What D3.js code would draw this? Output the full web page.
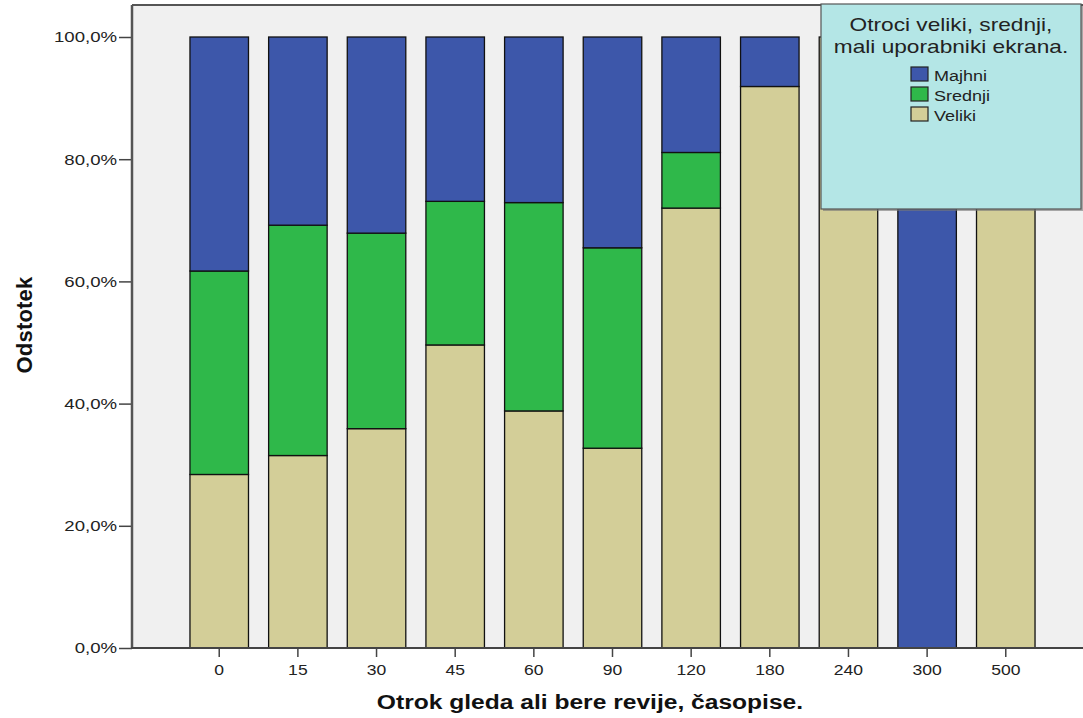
<!DOCTYPE html>
<html>
<head>
<meta charset="utf-8">
<script src="https://cdn.jsdelivr.net/npm/d3@7"></script>
<style>
  html, body { margin: 0; padding: 0; background: #ffffff; }
  svg { display: block; font-family: "Liberation Sans", Arial, sans-serif; }
</style>
</head>
<body>
<svg id="chart" width="1083" height="718"></svg>
<script>
const categories = ["0", "15", "30", "45", "60", "90", "120", "180", "240", "300", "500"];
const seriesKeys = ["Veliki", "Srednji", "Majhni"];
const veliki  = [28.4, 31.5, 35.9, 49.6, 38.8, 32.7, 72.0, 91.9, 100, 0, 100];
const srednji = [33.3, 37.7, 32.0, 23.5, 34.1, 32.8, 9.1, 0, 0, 0, 0];
const majhni  = [38.3, 30.8, 32.1, 26.9, 27.1, 34.5, 18.9, 8.1, 0, 100, 0];
const yTicks = [0, 20, 40, 60, 80, 100];
const legendOrder = ["Majhni", "Srednji", "Veliki"];
const legendTitle = ["Otroci veliki, srednji,", "mali uporabniki ekrana."];
const xTitle = "Otrok gleda ali bere revije, časopise.";
const yTitle = "Odstotek";

const colors = { Majhni: "#3d57aa", Srednji: "#2fb84a", Veliki: "#d3ce98" };

// horizontal stretch of text around its anchor point (the source image is widened)
function stretch(sel, k) {
  sel.each(function () {
    const t = d3.select(this);
    const ax = +t.attr("x") || 0, ay = +t.attr("y") || 0;
    t.attr("transform", `translate(${ax},${ay}) scale(${k},1) translate(${-ax},${-ay})`);
  });
}

const svg = d3.select("#chart");
const pLeft = 132, pRight = 1093, pTop = 5, pBottom = 648;

const x = d3.scaleBand().domain(categories).range([pLeft, pRight])
  .paddingInner(0.256).paddingOuter(0.737);
const y = d3.scaleLinear().domain([0, 100]).range([pBottom, 37]);

const table = categories.map((c, i) => ({ cat: c, Veliki: veliki[i], Srednji: srednji[i], Majhni: majhni[i] }));
const stacked = d3.stack().keys(seriesKeys)(table);

// plot background
svg.append("rect").attr("x", pLeft).attr("y", pTop).attr("width", pRight - pLeft).attr("height", pBottom - pTop)
  .attr("fill", "#f0f0f0");
svg.append("line").attr("x1", pLeft).attr("x2", pRight).attr("y1", pTop).attr("y2", pTop)
  .attr("stroke", "#555").attr("stroke-width", 2);

// bars
stacked.forEach(layer => {
  svg.append("g").selectAll("rect")
    .data(layer.filter(d => d[1] - d[0] > 0))
    .join("rect")
    .attr("x", d => x(d.data.cat))
    .attr("y", d => y(d[1]))
    .attr("width", x.bandwidth())
    .attr("height", d => y(d[0]) - y(d[1]))
    .attr("fill", colors[layer.key])
    .attr("stroke", "#111")
    .attr("stroke-width", 1.3);
});

// y axis
const yAxis = svg.append("g").attr("transform", `translate(${pLeft},0)`)
  .call(d3.axisLeft(y).tickValues(yTicks).tickSize(13).tickPadding(2)
    .tickFormat(d => d.toFixed(1).replace(".", ",") + "%"));
yAxis.select(".domain").remove();
yAxis.selectAll("line").attr("stroke", "#444").attr("stroke-width", 1.5);
yAxis.selectAll("text").attr("font-size", 15.5).attr("fill", "#222")
  .attr("font-family", "Liberation Sans, Arial, sans-serif").call(stretch, 1.2);
svg.append("line").attr("x1", pLeft).attr("x2", pLeft).attr("y1", pTop).attr("y2", pBottom + 1)
  .attr("stroke", "#555").attr("stroke-width", 2.5);

// x axis
const xAxis = svg.append("g").attr("transform", `translate(0,${pBottom})`)
  .call(d3.axisBottom(x).tickSize(9).tickSizeOuter(0).tickPadding(7));
xAxis.select(".domain").remove();
xAxis.selectAll("line").attr("stroke", "#444").attr("stroke-width", 1.5);
xAxis.selectAll("text").attr("font-size", 15).attr("fill", "#222")
  .attr("font-family", "Liberation Sans, Arial, sans-serif").call(stretch, 1.17);
svg.append("line").attr("x1", pLeft - 1).attr("x2", pRight).attr("y1", pBottom).attr("y2", pBottom)
  .attr("stroke", "#444").attr("stroke-width", 2);

// axis titles
svg.append("text").attr("x", 590).attr("y", 709).attr("text-anchor", "middle")
  .attr("font-size", 20.5).attr("font-weight", "bold").attr("fill", "#111")
  .text(xTitle).call(stretch, 1.2);
svg.append("text").attr("transform", "translate(32,325) rotate(-90)").attr("text-anchor", "middle")
  .attr("font-size", 22).attr("font-weight", "bold").attr("letter-spacing", 0.2).attr("fill", "#111")
  .text(yTitle);

// legend
const lg = svg.append("g");
const lx = 821, ly = 4, lw = 260, lh = 205;
lg.append("rect").attr("x", lx + 2).attr("y", ly + 2).attr("width", lw).attr("height", lh).attr("fill", "#777").attr("opacity", 0.6);
lg.append("rect").attr("x", lx).attr("y", ly).attr("width", lw).attr("height", lh)
  .attr("fill", "#b4e6e6").attr("stroke", "#555").attr("stroke-width", 1.2);
legendTitle.forEach((t, i) => {
  lg.append("text").attr("x", lx + lw / 2).attr("y", 31 + i * 22).attr("text-anchor", "middle")
    .attr("font-size", 18).attr("fill", "#222").text(t).call(stretch, 1.26);
});
legendOrder.forEach((k, i) => {
  const yy = 67 + i * 20;
  lg.append("rect").attr("x", 911).attr("y", yy).attr("width", 17).attr("height", 14)
    .attr("fill", colors[k]).attr("stroke", "#222").attr("stroke-width", 1.2);
  lg.append("text").attr("x", 934).attr("y", yy + 14).attr("font-size", 15)
    .attr("fill", "#222").text(k).call(stretch, 1.2);
});
</script>
</body>
</html>
